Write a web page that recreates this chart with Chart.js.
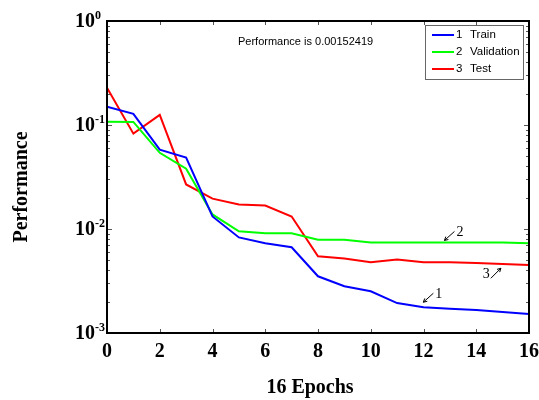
<!doctype html>
<html lang="en">
  <head>
    <meta charset="utf-8">
    <style>
      * { margin: 0; padding: 0; }
      body { background: #fff; }
      .chartBox { width: 539px; height: 400px; position: relative; }
    </style>
  </head>
  <body>
    <div class="chartBox"><canvas id="myChart"></canvas></div>
    <script src="https://cdn.jsdelivr.net/npm/chart.js/dist/chart.umd.min.js"></script>
    <script>
    // data
    const epochs = [0, 1, 2, 3, 4, 5, 6, 7, 8, 9, 10, 11, 12, 13, 14, 15, 16];
    const trainPerf = [0.150, 0.128, 0.058, 0.0486, 0.0132, 0.0083, 0.0073, 0.00667, 0.00351, 0.00282, 0.00252, 0.00194, 0.00177, 0.00171, 0.00166, 0.00159, 0.00152419];
    const validationPerf = [0.1075, 0.107, 0.054, 0.038, 0.0138, 0.0095, 0.0091, 0.0091, 0.0079, 0.0079, 0.0074, 0.0074, 0.0074, 0.0074, 0.0074, 0.0074, 0.0073];
    const testPerf = [0.228, 0.0826, 0.125, 0.0268, 0.0196, 0.0172, 0.0168, 0.0132, 0.00546, 0.0052, 0.0048, 0.0051, 0.0048, 0.0048, 0.0047, 0.0046, 0.0045];
    const seriesNames = ['Train', 'Validation', 'Test'];
    const seriesColors = ['#0000ff', '#00ff00', '#ff0000'];
    const yTickExponents = [0, -1, -2, -3];
    const xTickLabels = ['0', '2', '4', '6', '8', '10', '12', '14', '16'];
    const bestPerf = 0.00152419;

    const toPoints = arr => arr.map((v, i) => ({ x: epochs[i], y: v }));

    const data = {
      datasets: [trainPerf, validationPerf, testPerf].map((arr, i) => ({
        label: (i + 1) + '  ' + seriesNames[i],
        data: toPoints(arr),
        borderColor: seriesColors[i],
        backgroundColor: seriesColors[i],
        borderWidth: 2,
        pointRadius: 0,
        tension: 0
      }))
    };

    // frame, inward ticks, y labels, legend and notes
    const decor = {
      id: 'decor',
      afterDraw(chart) {
        const { ctx, chartArea: { top, bottom, left, right }, scales: { x, y } } = chart;
        ctx.save();

        // inward ticks
        ctx.strokeStyle = '#555';
        ctx.lineWidth = 1;
        ctx.beginPath();
        xTickLabels.forEach(t => {
          const px = Math.round(x.getPixelForValue(Number(t))) + 0.5;
          ctx.moveTo(px, bottom); ctx.lineTo(px, bottom - 4);
          ctx.moveTo(px, top); ctx.lineTo(px, top + 4);
        });
        for (let e = -3; e < 0; e++) {
          for (let m = 1; m <= 9; m++) {
            const py = Math.round(y.getPixelForValue(m * Math.pow(10, e))) + 0.5;
            const len = m === 1 ? 5 : 3;
            ctx.moveTo(left, py); ctx.lineTo(left + len, py);
            ctx.moveTo(right, py); ctx.lineTo(right - len, py);
          }
        }
        ctx.stroke();

        // frame
        ctx.strokeStyle = '#000';
        ctx.lineWidth = 2;
        ctx.strokeRect(left, top, right - left, bottom - top);

        // y tick labels 10^n
        ctx.fillStyle = '#000';
        ctx.textBaseline = 'middle';
        yTickExponents.forEach(e => {
          const py = y.getPixelForValue(Math.pow(10, e));
          ctx.font = 'bold 20px "Liberation Serif"';
          ctx.textAlign = 'right';
          ctx.fillText('10', 95, py + 1);
          ctx.font = 'bold 12px "Liberation Serif"';
          ctx.textAlign = 'left';
          ctx.fillText(e === 0 ? '0' : '-' + Math.abs(e), 95, py - 5);
        });

        // axis titles
        ctx.font = 'bold 20px "Liberation Serif"';
        ctx.textAlign = 'center';
        ctx.fillText('16 Epochs', 310, 388);
        ctx.save();
        ctx.translate(22, 187);
        ctx.rotate(-Math.PI / 2);
        ctx.fillText('Performance', 0, 0);
        ctx.restore();

        // performance note
        ctx.font = '11px "Liberation Sans"';
        ctx.textAlign = 'left';
        ctx.fillText('Performance is ' + bestPerf, 238, 42);

        // legend
        ctx.fillStyle = '#fff';
        ctx.fillRect(425, 25, 99, 55);
        ctx.strokeStyle = '#666';
        ctx.lineWidth = 1;
        ctx.strokeRect(425.5, 25.5, 98, 54);
        seriesNames.forEach((name, i) => {
          const ly = 35 + i * 17;
          ctx.strokeStyle = seriesColors[i];
          ctx.lineWidth = 2;
          ctx.beginPath();
          ctx.moveTo(432, ly); ctx.lineTo(454, ly);
          ctx.stroke();
          ctx.fillStyle = '#000';
          ctx.font = '11.5px "Liberation Sans"';
          ctx.fillText(String(i + 1), 456, ly);
          ctx.fillText(name, 470, ly);
        });

        // curve labels with small arrows
        ctx.strokeStyle = '#000';
        ctx.fillStyle = '#000';
        ctx.lineWidth = 1;
        ctx.font = '14px "Liberation Serif"';
        const arrow = (x1, y1, x2, y2) => {
          ctx.beginPath();
          ctx.moveTo(x1, y1); ctx.lineTo(x2, y2);
          const a = Math.atan2(y2 - y1, x2 - x1);
          ctx.moveTo(x2, y2); ctx.lineTo(x2 - 4 * Math.cos(a - 0.5), y2 - 4 * Math.sin(a - 0.5));
          ctx.moveTo(x2, y2); ctx.lineTo(x2 - 4 * Math.cos(a + 0.5), y2 - 4 * Math.sin(a + 0.5));
          ctx.stroke();
        };
        const notes = [
          { n: '1', ex: 12.45, ev: 0.00236, before: true },
          { n: '2', ex: 13.25, ev: 0.00927, before: true },
          { n: '3', ex: 14.25, ev: 0.00367, before: false }
        ];
        notes.forEach(o => {
          const px = x.getPixelForValue(o.ex);
          const py = y.getPixelForValue(o.ev);
          ctx.textAlign = 'left';
          ctx.fillText(o.n, px, py);
          if (o.before) arrow(px - 2, py - 1, px - 12, py + 8);
          else arrow(px + 8, py + 4, px + 18, py - 6);
        });

        ctx.restore();
      }
    };

    const config = {
      type: 'line',
      data,
      options: {
        responsive: true,
        maintainAspectRatio: false,
        animation: false,
        devicePixelRatio: 1,
        layout: { padding: { top: 21, right: 10, left: 0, bottom: 0 } },
        scales: {
          x: {
            type: 'linear',
            min: 0,
            max: 16,
            grid: { display: false, drawTicks: false },
            border: { display: false },
            ticks: {
              stepSize: 2,
              padding: 7,
              color: '#000',
              font: { family: 'Liberation Serif', size: 20, weight: 'bold' }
            },
            afterFit(scale) {
              scale.height = 67;
              scale.paddingLeft = 0;
              scale.paddingRight = 0;
            }
          },
          y: {
            type: 'logarithmic',
            min: 0.001,
            max: 1,
            grid: { display: false, drawTicks: false },
            border: { display: false },
            ticks: { display: false },
            afterFit(scale) {
              scale.width = 107;
            }
          }
        },
        plugins: {
          legend: { display: false },
          tooltip: { enabled: false }
        }
      },
      plugins: [decor]
    };

    const myChart = new Chart(document.getElementById('myChart'), config);
    </script>
  </body>
</html>
